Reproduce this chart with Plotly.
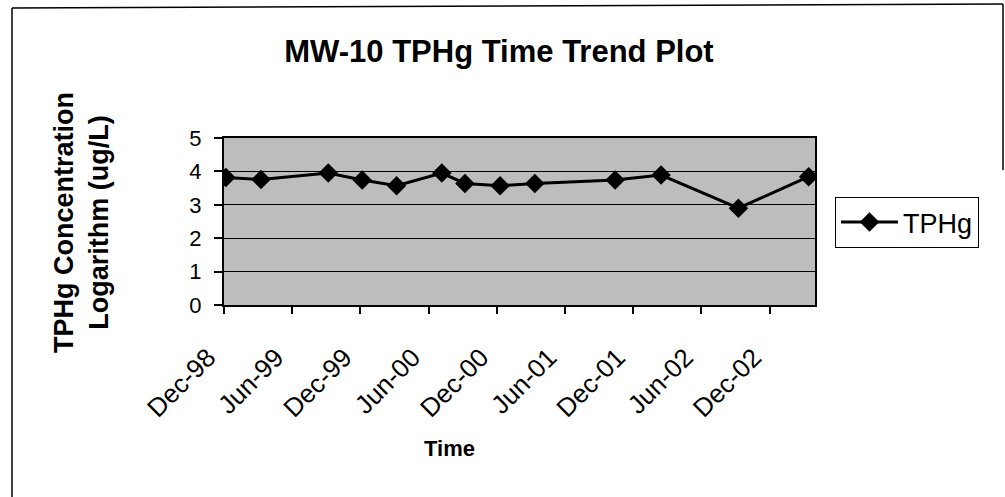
import plotly.graph_objects as go

dates = ["1998-12-06", "1999-03-10", "1999-09-06", "1999-12-06", "2000-03-07",
         "2000-07-06", "2000-09-06", "2000-12-09", "2001-03-12", "2001-10-13",
         "2002-02-13", "2002-09-08", "2003-03-15"]
tphg_log = [3.82, 3.76, 3.95, 3.74, 3.57, 3.95, 3.64, 3.57, 3.64, 3.74, 3.89, 2.90, 3.84]

W, H = 1005, 497
L, R, T, B = 224, 815, 138, 305

def px(x):
    return (x - L) / (R - L)

def py(y):
    return (B - y) / (B - T)

fig = go.Figure()
fig.add_trace(go.Scatter(
    x=dates, y=tphg_log, name="TPHg", mode="lines+markers",
    line=dict(color="black", width=3),
    marker=dict(symbol="diamond", size=15, color="black"),
))

fig.update_layout(
    width=W, height=H,
    margin=dict(l=L, r=W - R, t=T, b=H - B, pad=0),
    paper_bgcolor="white",
    plot_bgcolor="#bdbdbd",
    font=dict(family="Arial, Liberation Sans, sans-serif", color="black"),
    showlegend=True,
    legend=dict(x=px(835), y=py(197), xanchor="left", yanchor="top",
                bordercolor="black", borderwidth=1, bgcolor="white",
                font=dict(size=27), itemwidth=57, entrywidth=142),
    xaxis=dict(range=["1998-12-01", "2003-04-01"], type="date",
               tick0="1998-12-01", dtick="M6", tickformat="%b-%y",
               tickangle=-45, tickfont=dict(size=26), ticklabelstandoff=18,
               ticklabelshift=-16,
               ticks="outside", ticklen=7, tickcolor="black", tickwidth=1.5,
               showgrid=False, showline=True, linecolor="black", linewidth=2,
               mirror=True, zeroline=False),
    yaxis=dict(range=[0, 5], tickvals=[0, 1, 2, 3, 4, 5], tickfont=dict(size=22),
               ticklabelstandoff=8,
               ticks="outside", ticklen=8, tickcolor="black", tickwidth=1.5,
               showgrid=True, gridcolor="black", gridwidth=1.2,
               showline=True, linecolor="black", linewidth=2, mirror=True,
               zeroline=False),
    title=dict(text="<b>MW-10 TPHg Time Trend Plot</b>", x=499 / W, xanchor="center",
               y=1 - 51 / H, yanchor="middle", font=dict(size=31)),
    annotations=[
        dict(text="<b>TPHg Concentration<br>Logarithm (ug/L)</b>", textangle=-90,
             x=px(81), y=py(223), xref="paper", yref="paper",
             xanchor="center", yanchor="middle", showarrow=False,
             font=dict(size=27)),
        dict(text="<b>Time</b>", x=px(449), y=py(448), xref="paper", yref="paper",
             xanchor="center", yanchor="middle", showarrow=False,
             font=dict(size=22)),
    ],
    shapes=[
        dict(type="line", xref="paper", yref="paper", x0=px(12), x1=px(12),
             y0=py(8), y1=py(497), line=dict(color="black", width=1.5)),
        dict(type="line", xref="paper", yref="paper", x0=px(12), x1=px(1003),
             y0=py(8), y1=py(4), line=dict(color="black", width=1.5)),
        dict(type="line", xref="paper", yref="paper", x0=px(1003), x1=px(1003),
             y0=py(4), y1=py(170), line=dict(color="black", width=1.5)),
    ],
)

fig.write_html("out.html")
